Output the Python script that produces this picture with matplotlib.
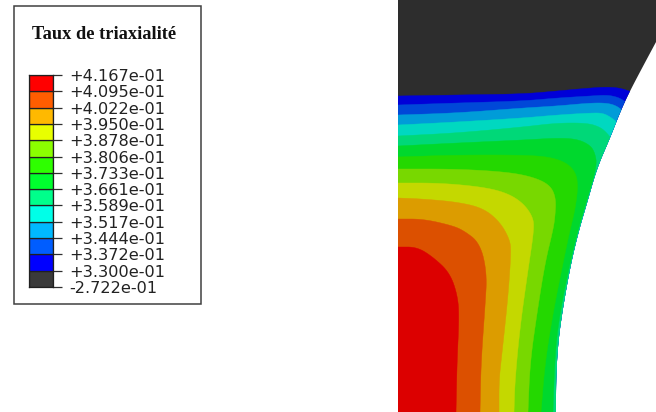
import numpy as np
import matplotlib
matplotlib.use("Agg")
from matplotlib import pyplot as plt
from matplotlib.patches import Rectangle, Polygon

W, H = 656, 412

title = "Taux de triaxialité"
tick_labels = ["-2.722e-01", "+3.300e-01", "+3.372e-01", "+3.444e-01", "+3.517e-01",
               "+3.589e-01", "+3.661e-01", "+3.733e-01", "+3.806e-01", "+3.878e-01",
               "+3.950e-01", "+4.022e-01", "+4.095e-01", "+4.167e-01"]
legend_colors = ["#3a3a3a", "#0000ff", "#005dff", "#00b9ff", "#00ffe8", "#00ff8b", "#00ff2e",
                 "#2eff00", "#8bff00", "#e8ff00", "#ffb900", "#ff5d00", "#ff0000"]
band_colors = ["#2d2d2d", "#0000d8", "#0048d8", "#009cd8", "#00d8c0", "#00d878", "#00d82d",
               "#24d800", "#78d800", "#c4d800", "#dc9c00", "#dc5000", "#dc0000"]

# specimen outline in pixels
outline = [(656, 42), (641, 70), (630, 91), (621, 110), (610, 138), (597, 168), (587, 203),
           (579, 230), (571, 263), (563, 307), (558, 343), (556, 380), (556, 412)]

# contour limits, from the left edge to where they run into the outline
c1 = [(398, 96), (457, 95), (523, 94), (557, 91), (590, 88), (607, 87), (620, 88), (632, 92)]
c2 = [(398, 105), (457, 103), (523, 101), (557, 98), (590, 96), (607, 95), (617, 97), (623, 100), (628, 104)]
c3 = [(398, 115), (457, 113), (523, 108), (557, 106), (590, 103), (607, 103), (617, 106), (624, 112)]
c4 = [(398, 125), (457, 122), (523, 118), (557, 115), (590, 113), (603, 113), (612, 118), (619, 124)]
c5 = [(398, 136), (457, 133), (523, 127), (557, 123), (587, 123), (600, 127), (607, 133), (613, 141)]
c6 = [(398, 146), (457, 143), (523, 140), (557, 138), (577, 139), (590, 145), (595, 153), (597, 166),
      (586, 203), (578, 230), (570, 263), (561, 307), (556, 343), (554, 380), (553, 412)]
c7 = [(398, 157), (457, 155), (523, 155), (550, 157), (567, 163), (576, 173), (578, 187), (575, 210),
      (570, 230), (563, 263), (553, 313), (545, 363), (541, 412)]
c8 = [(398, 169), (457, 169), (507, 172), (533, 177), (550, 185), (556, 198), (555, 217), (553, 230),
      (545, 263), (537, 313), (530, 363), (528, 412)]
c9 = [(398, 183), (440, 183), (483, 187), (507, 193), (523, 203), (533, 217), (534, 230), (528, 270),
      (520, 327), (515, 380), (514, 412)]
c10 = [(398, 198), (423, 199), (457, 202), (483, 208), (500, 222), (510, 240), (511, 253), (508, 297),
       (502, 353), (499, 380), (499, 412)]
c11 = [(398, 219), (423, 219), (450, 225), (463, 230), (480, 243), (487, 273), (485, 307), (481, 363),
       (480, 412)]
c12 = [(398, 247), (417, 247), (433, 257), (450, 273), (458, 297), (459, 320), (457, 363), (456, 412)]
contours = [c1, c2, c3, c4, c5, c6, c7, c8, c9, c10, c11, c12]


def smooth(pts, n=3):
    # corner cutting, keeps both ends
    pts = np.array(pts, dtype=float)
    for _ in range(n):
        q = 0.75 * pts[:-1] + 0.25 * pts[1:]
        r = 0.25 * pts[:-1] + 0.75 * pts[1:]
        mid = np.empty((len(q) * 2, 2))
        mid[0::2] = q
        mid[1::2] = r
        pts = np.vstack([pts[0], mid, pts[-1]])
    return pts


fig = plt.figure(figsize=(W / 100, H / 100), dpi=100)
ax = fig.add_axes([0, 0, 1, 1])
ax.set_xlim(0, W)
ax.set_ylim(H, 0)
ax.axis("off")

edge = smooth(outline, 3)
shape = np.vstack([[398, 0], [W, 0], edge, [398, H]])
ax.fill(shape[:, 0], shape[:, 1], color=band_colors[0], lw=0)
clip = Polygon(shape, transform=ax.transData)

for c, col in zip(contours, band_colors[1:]):
    line = smooth(c, 3)
    # close past the outline, the clip trims it back
    poly = np.vstack([line, [W, line[-1, 1]], [W, H], [398, H]])
    if line[-1, 1] >= H:
        poly = np.vstack([line, [398, H]])
    for p in ax.fill(poly[:, 0], poly[:, 1], color=col, lw=0.3, ec=col):
        p.set_clip_path(clip)

# legend box
ax.add_patch(Rectangle((13.5, 6), 187, 297.5, fc="white", ec="#404040", lw=1.1, zorder=5))
ax.text(104.5, 34, title, family="Liberation Serif", weight="bold", fontsize=13.2,
        ha="center", va="center", color="#111111", zorder=6)

# colour bar
cax = fig.add_axes([29 / W, 1 - 287 / H, 24 / W, 212 / H], zorder=7)
cax.barh(np.arange(13) + 0.5, np.ones(13), height=1, color=legend_colors, ec="#202020", lw=0.9)
cax.set_xlim(0, 1)
cax.set_ylim(0, 13)
cax.set_xticks([])
cax.yaxis.tick_right()
cax.set_yticks(np.arange(14))
cax.set_yticklabels(tick_labels, family="DejaVu Sans", fontsize=11.6, color="#222222")
cax.tick_params(axis="y", length=6.5, width=0.9, color="#303030", pad=5.2)
for s in cax.spines.values():
    s.set_color("#202020")
    s.set_linewidth(0.9)

fig.savefig("out.png", dpi=100)
